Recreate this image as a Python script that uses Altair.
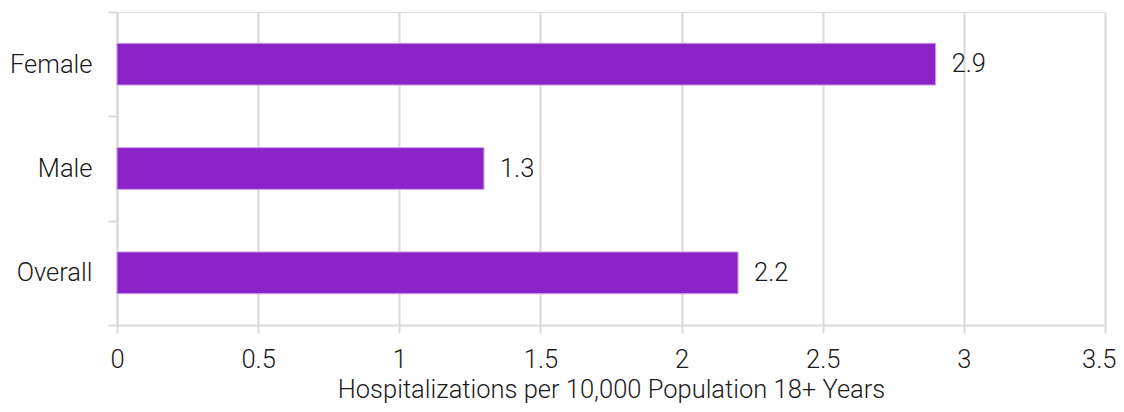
import altair as alt
import pandas as pd

categories = ["Female", "Male", "Overall"]
values = [2.9, 1.3, 2.2]

df = pd.DataFrame({"group": categories, "rate": values})

FONT = "Roboto"
FS = 25.5
GRID = "#d9d9d9"
TXT = "#1a1a1a"

base = alt.Chart(df).encode(
    y=alt.Y("group:N", sort=categories, title=None,
            scale=alt.Scale(paddingInner=0, paddingOuter=0),
            axis=alt.Axis(tickBand="extent", domainColor=GRID, domainWidth=2,
                          tickColor=GRID, tickWidth=2, tickSize=9,
                          labelPadding=16, labelFont=FONT, labelFontSize=FS,
                          labelFontWeight=300, labelColor=TXT)),
)

bars = base.mark_bar(color="#8C23C8", stroke="#c9a0e8", strokeWidth=1,
                     height={"band": 0.4}).encode(
    x=alt.X("rate:Q", title="Hospitalizations per 10,000 Population 18+ Years",
            scale=alt.Scale(domain=[0, 3.5], nice=False),
            axis=alt.Axis(values=[0, 0.5, 1, 1.5, 2, 2.5, 3, 3.5], format="~g",
                          grid=True, gridColor=GRID, gridWidth=2,
                          domainColor=GRID, domainWidth=2,
                          tickColor=GRID, tickWidth=2, tickSize=8,
                          labelFlush=False, labelPadding=14,
                          labelAlign=alt.ExprRef("datum.value >= 3.5 ? 'right' : 'center'"),
                          labelOffset=alt.ExprRef("datum.value >= 3.5 ? 11 : 0"),
                          labelFont=FONT, labelFontSize=FS,
                          labelFontWeight=300, labelColor=TXT,
                          titleFont=FONT, titleFontSize=FS, titleFontWeight=300,
                          titleColor=TXT, titlePadding=5))
)

labels = base.mark_text(align="left", baseline="middle", dx=16, font=FONT,
                        fontSize=FS, fontWeight=300, color=TXT).encode(
    x="rate:Q", text=alt.Text("rate:Q", format=".1f")
)

chart = (bars + labels).properties(
    width=988, height=313,
    autosize=alt.AutoSizeParams(type="none"),
    padding={"left": 109, "top": 4, "right": 11, "bottom": 79},
).configure_view(stroke=None).configure(background="white")

chart.save("out.html", embed_options={"renderer": "svg", "actions": False})
